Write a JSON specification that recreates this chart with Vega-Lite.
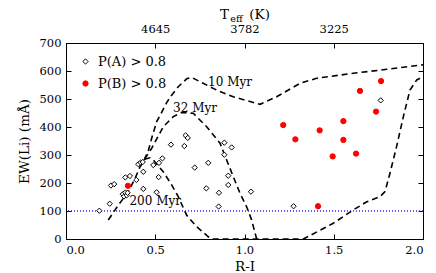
{
  "$schema": "https://vega.github.io/schema/vega-lite/v6.json",
  "width": 357,
  "height": 196,
  "autosize": {"type": "none"},
  "padding": {"left": 66, "top": 43, "right": 13, "bottom": 34},
  "background": "white",
  "config": {
    "view": {"stroke": "black", "strokeWidth": 1},
    "font": "DejaVu Serif",
    "axis": {
      "labelFont": "DejaVu Serif", "titleFont": "DejaVu Serif",
      "labelFontSize": 11.5, "titleFontSize": 13.5, "titleFontWeight": "normal",
      "labelColor": "black", "titleColor": "black", "domainColor": "black", "tickColor": "black",
      "grid": false, "tickSize": -5, "labelPadding": 10
    },
    "legend": {
      "labelFont": "DejaVu Serif", "labelFontSize": 13, "labelColor": "black",
      "symbolSize": 28, "symbolStrokeWidth": 1, "rowPadding": 8, "padding": 0, "labelOffset": 6
    }
  },
  "datasets": {
    "curves": [
      {"curve": "10 Myr", "i": 1, "ri": 0.237, "ew": 68},
      {"curve": "10 Myr", "i": 2, "ri": 0.293, "ew": 121},
      {"curve": "10 Myr", "i": 3, "ri": 0.349, "ew": 169},
      {"curve": "10 Myr", "i": 4, "ri": 0.387, "ew": 217},
      {"curve": "10 Myr", "i": 5, "ri": 0.415, "ew": 258},
      {"curve": "10 Myr", "i": 6, "ri": 0.44, "ew": 285},
      {"curve": "10 Myr", "i": 7, "ri": 0.461, "ew": 315},
      {"curve": "10 Myr", "i": 8, "ri": 0.48, "ew": 360},
      {"curve": "10 Myr", "i": 9, "ri": 0.508, "ew": 419},
      {"curve": "10 Myr", "i": 10, "ri": 0.53, "ew": 445},
      {"curve": "10 Myr", "i": 11, "ri": 0.564, "ew": 487},
      {"curve": "10 Myr", "i": 12, "ri": 0.59, "ew": 512},
      {"curve": "10 Myr", "i": 13, "ri": 0.629, "ew": 544},
      {"curve": "10 Myr", "i": 14, "ri": 0.676, "ew": 572},
      {"curve": "10 Myr", "i": 15, "ri": 0.704, "ew": 577},
      {"curve": "10 Myr", "i": 16, "ri": 0.769, "ew": 556},
      {"curve": "10 Myr", "i": 17, "ri": 0.844, "ew": 532},
      {"curve": "10 Myr", "i": 18, "ri": 0.937, "ew": 508},
      {"curve": "10 Myr", "i": 19, "ri": 1.087, "ew": 481},
      {"curve": "10 Myr", "i": 20, "ri": 1.18, "ew": 508},
      {"curve": "10 Myr", "i": 21, "ri": 1.311, "ew": 556},
      {"curve": "10 Myr", "i": 22, "ri": 1.404, "ew": 574},
      {"curve": "10 Myr", "i": 23, "ri": 1.61, "ew": 592},
      {"curve": "10 Myr", "i": 24, "ri": 1.797, "ew": 606},
      {"curve": "10 Myr", "i": 25, "ri": 2.0, "ew": 622},
      {"curve": "32 Myr", "i": 1, "ri": 0.44, "ew": 285},
      {"curve": "32 Myr", "i": 2, "ri": 0.48, "ew": 324},
      {"curve": "32 Myr", "i": 3, "ri": 0.545, "ew": 401},
      {"curve": "32 Myr", "i": 4, "ri": 0.601, "ew": 437},
      {"curve": "32 Myr", "i": 5, "ri": 0.65, "ew": 452},
      {"curve": "32 Myr", "i": 6, "ri": 0.713, "ew": 449},
      {"curve": "32 Myr", "i": 7, "ri": 0.788, "ew": 401},
      {"curve": "32 Myr", "i": 8, "ri": 0.863, "ew": 342},
      {"curve": "32 Myr", "i": 9, "ri": 0.9, "ew": 282},
      {"curve": "32 Myr", "i": 10, "ri": 0.937, "ew": 223},
      {"curve": "32 Myr", "i": 11, "ri": 0.975, "ew": 163},
      {"curve": "32 Myr", "i": 12, "ri": 1.012, "ew": 115},
      {"curve": "32 Myr", "i": 13, "ri": 1.04, "ew": 68},
      {"curve": "32 Myr", "i": 14, "ri": 1.068, "ew": 0},
      {"curve": "200 Myr", "i": 1, "ri": 0.44, "ew": 285},
      {"curve": "200 Myr", "i": 2, "ri": 0.47, "ew": 290},
      {"curve": "200 Myr", "i": 3, "ri": 0.489, "ew": 282},
      {"curve": "200 Myr", "i": 4, "ri": 0.545, "ew": 240},
      {"curve": "200 Myr", "i": 5, "ri": 0.592, "ew": 193},
      {"curve": "200 Myr", "i": 6, "ri": 0.629, "ew": 151},
      {"curve": "200 Myr", "i": 7, "ri": 0.676, "ew": 85},
      {"curve": "200 Myr", "i": 8, "ri": 0.732, "ew": 44},
      {"curve": "200 Myr", "i": 9, "ri": 0.797, "ew": 8},
      {"curve": "200 Myr", "i": 10, "ri": 0.82, "ew": 0},
      {"curve": "200 Myr", "i": 11, "ri": 1.33, "ew": 0},
      {"curve": "200 Myr", "i": 12, "ri": 1.497, "ew": 56},
      {"curve": "200 Myr", "i": 13, "ri": 1.61, "ew": 104},
      {"curve": "200 Myr", "i": 14, "ri": 1.685, "ew": 133},
      {"curve": "200 Myr", "i": 15, "ri": 1.759, "ew": 151},
      {"curve": "200 Myr", "i": 16, "ri": 1.787, "ew": 169},
      {"curve": "200 Myr", "i": 17, "ri": 1.815, "ew": 235},
      {"curve": "200 Myr", "i": 18, "ri": 1.852, "ew": 330},
      {"curve": "200 Myr", "i": 19, "ri": 1.89, "ew": 437},
      {"curve": "200 Myr", "i": 20, "ri": 1.927, "ew": 532},
      {"curve": "200 Myr", "i": 21, "ri": 1.965, "ew": 568},
      {"curve": "200 Myr", "i": 22, "ri": 1.993, "ew": 577}
    ],
    "stars": [
      {"group": "P(A) > 0.8", "ri": 0.187, "ew": 101},
      {"group": "P(A) > 0.8", "ri": 0.245, "ew": 126},
      {"group": "P(A) > 0.8", "ri": 0.252, "ew": 191},
      {"group": "P(A) > 0.8", "ri": 0.27, "ew": 196},
      {"group": "P(A) > 0.8", "ri": 0.318, "ew": 160},
      {"group": "P(A) > 0.8", "ri": 0.325, "ew": 152},
      {"group": "P(A) > 0.8", "ri": 0.332, "ew": 166},
      {"group": "P(A) > 0.8", "ri": 0.34, "ew": 156},
      {"group": "P(A) > 0.8", "ri": 0.345, "ew": 165},
      {"group": "P(A) > 0.8", "ri": 0.332, "ew": 220},
      {"group": "P(A) > 0.8", "ri": 0.358, "ew": 225},
      {"group": "P(A) > 0.8", "ri": 0.394, "ew": 211},
      {"group": "P(A) > 0.8", "ri": 0.405, "ew": 267},
      {"group": "P(A) > 0.8", "ri": 0.418, "ew": 273},
      {"group": "P(A) > 0.8", "ri": 0.43, "ew": 275},
      {"group": "P(A) > 0.8", "ri": 0.433, "ew": 240},
      {"group": "P(A) > 0.8", "ri": 0.433, "ew": 179},
      {"group": "P(A) > 0.8", "ri": 0.489, "ew": 264},
      {"group": "P(A) > 0.8", "ri": 0.508, "ew": 167},
      {"group": "P(A) > 0.8", "ri": 0.519, "ew": 221},
      {"group": "P(A) > 0.8", "ri": 0.521, "ew": 272},
      {"group": "P(A) > 0.8", "ri": 0.54, "ew": 288},
      {"group": "P(A) > 0.8", "ri": 0.588, "ew": 337},
      {"group": "P(A) > 0.8", "ri": 0.663, "ew": 332},
      {"group": "P(A) > 0.8", "ri": 0.67, "ew": 370},
      {"group": "P(A) > 0.8", "ri": 0.682, "ew": 361},
      {"group": "P(A) > 0.8", "ri": 0.721, "ew": 255},
      {"group": "P(A) > 0.8", "ri": 0.786, "ew": 181},
      {"group": "P(A) > 0.8", "ri": 0.797, "ew": 272},
      {"group": "P(A) > 0.8", "ri": 0.855, "ew": 116},
      {"group": "P(A) > 0.8", "ri": 0.857, "ew": 165},
      {"group": "P(A) > 0.8", "ri": 0.887, "ew": 344},
      {"group": "P(A) > 0.8", "ri": 0.887, "ew": 301},
      {"group": "P(A) > 0.8", "ri": 0.909, "ew": 226},
      {"group": "P(A) > 0.8", "ri": 0.909, "ew": 193},
      {"group": "P(A) > 0.8", "ri": 0.928, "ew": 327},
      {"group": "P(A) > 0.8", "ri": 1.036, "ew": 169},
      {"group": "P(A) > 0.8", "ri": 1.275, "ew": 117},
      {"group": "P(A) > 0.8", "ri": 1.763, "ew": 495},
      {"group": "P(B) > 0.8", "ri": 0.347, "ew": 190},
      {"group": "P(B) > 0.8", "ri": 1.217, "ew": 407},
      {"group": "P(B) > 0.8", "ri": 1.285, "ew": 356},
      {"group": "P(B) > 0.8", "ri": 1.412, "ew": 117},
      {"group": "P(B) > 0.8", "ri": 1.421, "ew": 388},
      {"group": "P(B) > 0.8", "ri": 1.494, "ew": 295},
      {"group": "P(B) > 0.8", "ri": 1.554, "ew": 421},
      {"group": "P(B) > 0.8", "ri": 1.554, "ew": 354},
      {"group": "P(B) > 0.8", "ri": 1.625, "ew": 305},
      {"group": "P(B) > 0.8", "ri": 1.647, "ew": 529},
      {"group": "P(B) > 0.8", "ri": 1.737, "ew": 455},
      {"group": "P(B) > 0.8", "ri": 1.765, "ew": 564}
    ],
    "labels": [
      {"ri": 0.919, "ew": 561, "label": "10 Myr"},
      {"ri": 0.723, "ew": 468, "label": "32 Myr"},
      {"ri": 0.5, "ew": 134, "label": "200 Myr"}
    ]
  },
  "layer": [
    {
      "data": {"values": [{"ew": 100}]},
      "mark": {"type": "rule", "color": "#2222ff", "strokeDash": [1, 2], "strokeWidth": 1.3},
      "encoding": {
        "y": {"field": "ew", "type": "quantitative", "scale": {"domain": [0, 700], "nice": false},
          "axis": {"orient": "left", "values": [0, 100, 200, 300, 400, 500, 600, 700], "title": "EW(Li) (mÅ)", "titlePadding": 8}}
      }
    },
    {
      "data": {"name": "curves"},
      "mark": {"type": "line", "color": "black", "strokeDash": [6, 4], "strokeWidth": 1.6},
      "encoding": {
        "x": {"field": "ri", "type": "quantitative", "scale": {"domain": [0, 2], "nice": false},
          "axis": {"orient": "bottom", "values": [0, 0.5, 1, 1.5, 2], "format": ".1f", "title": "R-I", "titlePadding": 4}},
        "y": {"field": "ew", "type": "quantitative", "axis": null},
        "detail": {"field": "curve"},
        "order": {"field": "i", "type": "quantitative"}
      }
    },
    {
      "data": {"name": "stars"},
      "mark": {"type": "point", "filled": true, "opacity": 1, "size": 28, "strokeWidth": 1},
      "encoding": {
        "x": {"field": "ri", "type": "quantitative",
          "axis": {"orient": "top", "values": [0.5, 1, 1.5], "labelExpr": "datum.value === 0.5 ? '4645' : datum.value === 1 ? '3782' : '3225'", "title": "T\u2003\u2002(K)", "titlePadding": 2, "labelPadding": 14}},
        "y": {"field": "ew", "type": "quantitative",
          "axis": {"orient": "right", "values": [100, 200, 300, 400, 500, 600], "labels": false, "title": null}},
        "shape": {"field": "group", "type": "nominal", "scale": {"domain": ["P(A) > 0.8", "P(B) > 0.8"], "range": ["diamond", "circle"]},
          "legend": {"title": null, "orient": "none", "legendX": 13, "legendY": 12}},
        "fill": {"field": "group", "type": "nominal", "scale": {"domain": ["P(A) > 0.8", "P(B) > 0.8"], "range": ["white", "red"]}, "legend": {"title": null, "orient": "none", "legendX": 13, "legendY": 12}},
        "stroke": {"field": "group", "type": "nominal", "scale": {"domain": ["P(A) > 0.8", "P(B) > 0.8"], "range": ["black", "red"]}, "legend": {"title": null, "orient": "none", "legendX": 13, "legendY": 12}}
      }
    },
    {
      "data": {"name": "labels"},
      "mark": {"type": "text", "font": "DejaVu Serif", "fontSize": 12, "color": "black", "align": "center", "baseline": "middle"},
      "encoding": {
        "x": {"field": "ri", "type": "quantitative",
          "axis": {"orient": "top", "values": [], "labels": false, "ticks": false, "domain": false, "title": "eff", "titleFontSize": 9.5, "titleX": 170, "titleY": -22, "titleBaseline": "alphabetic", "titleAlign": "center"}},
        "y": {"field": "ew", "type": "quantitative", "axis": null},
        "text": {"field": "label"}
      }
    }
  ],
  "resolve": {"axis": {"x": "independent", "y": "independent"}}
}
